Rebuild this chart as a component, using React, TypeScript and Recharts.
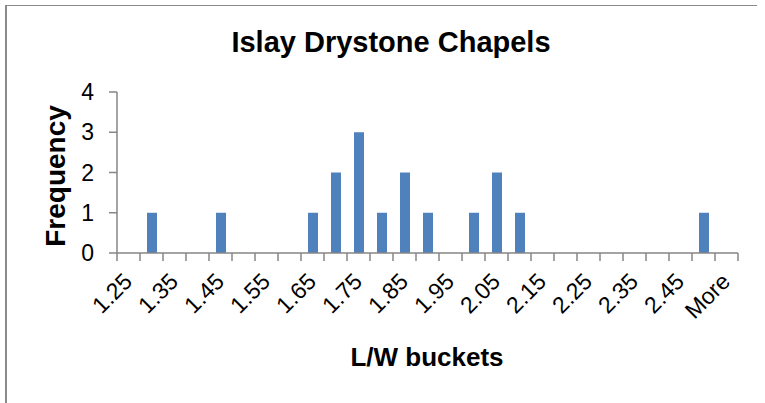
import { Bar, BarChart, XAxis, YAxis } from "recharts";

const bins = [
  "1.25", "1.3", "1.35", "1.4", "1.45", "1.5", "1.55", "1.6", "1.65",
  "1.7", "1.75", "1.8", "1.85", "1.9", "1.95", "2", "2.05", "2.1",
  "2.15", "2.2", "2.25", "2.3", "2.35", "2.4", "2.45", "2.5", "More",
];
const frequency = [
  0, 1, 0, 0, 1, 0, 0, 0, 1, 2, 3, 1, 2, 1, 0, 1, 2, 1, 0, 0, 0, 0, 0, 0, 0, 1, 0,
];
const yTicks = [0, 1, 2, 3, 4];

const data = bins.map((bin, i) => ({ bin, count: frequency[i] }));

const W = 765;
const H = 403;
const MARGIN = { top: 92, right: 27, bottom: 50, left: 57 };
const Y_AXIS_W = 60;
const BAND = (W - MARGIN.left - Y_AXIS_W - MARGIN.right) / bins.length;
const AXIS = "#868686";
const FONT = "'Liberation Sans', Arial, sans-serif";

function BinTick(props: any) {
  const { x, y, payload, index } = props;
  const half = BAND / 2;
  const lx = x + 5;
  const ly = y + 30;
  return (
    <g>
      <line x1={x - half} y1={y} x2={x - half} y2={y + 8} stroke={AXIS} strokeWidth={1.5} />
      {index === bins.length - 1 && (
        <line x1={x + half} y1={y} x2={x + half} y2={y + 8} stroke={AXIS} strokeWidth={1.5} />
      )}
      {index % 2 === 0 && (
        <text
          x={lx}
          y={ly}
          transform={`rotate(-45 ${lx} ${ly})`}
          textAnchor="end"
          fontSize={23}
          fontFamily={FONT}
          fill="#000"
        >
          {payload.value}
        </text>
      )}
    </g>
  );
}

export default function App() {
  return (
    <div
      style={{
        position: "fixed",
        left: 0,
        top: 0,
        width: W,
        height: H,
        background: "#fff",
        overflow: "hidden",
      }}
    >
      <div
        style={{
          position: "absolute",
          left: 5,
          top: 5,
          width: 750,
          height: 420,
          borderLeft: "2px solid #8a8a8a",
          borderTop: "1px solid #8a8a8a",
        }}
      />
      <BarChart width={W} height={H} data={data} margin={MARGIN}>
        <XAxis
          dataKey="bin"
          interval={0}
          height={100}
          tickLine={false}
          tickSize={0}
          tickMargin={0}
          axisLine={{ stroke: AXIS, strokeWidth: 1.5 }}
          tick={<BinTick />}
        />
        <YAxis
          width={Y_AXIS_W}
          domain={[0, 4]}
          ticks={yTicks}
          interval={0}
          allowDecimals={false}
          axisLine={{ stroke: AXIS, strokeWidth: 1.5 }}
          tickLine={{ stroke: AXIS, strokeWidth: 1.5 }}
          tickSize={8}
          tickMargin={15}
          tick={{ fontSize: 23, fill: "#000", fontFamily: FONT }}
        />
        <Bar dataKey="count" fill="#4F81BD" barSize={10} isAnimationActive={false} />
      </BarChart>
      <svg
        width={W}
        height={H}
        style={{ position: "absolute", left: 0, top: 0, pointerEvents: "none" }}
      >
        <text x={391} y={52} textAnchor="middle" fontSize={29} fontWeight="bold" fontFamily={FONT}>
          Islay Drystone Chapels
        </text>
        <text
          x={65}
          y={176}
          transform="rotate(-90 65 176)"
          textAnchor="middle"
          fontSize={28}
          fontWeight="bold"
          fontFamily={FONT}
        >
          Frequency
        </text>
        <text x={427} y={366} textAnchor="middle" fontSize={26} fontWeight="bold" fontFamily={FONT}>
          L/W buckets
        </text>
      </svg>
    </div>
  );
}
